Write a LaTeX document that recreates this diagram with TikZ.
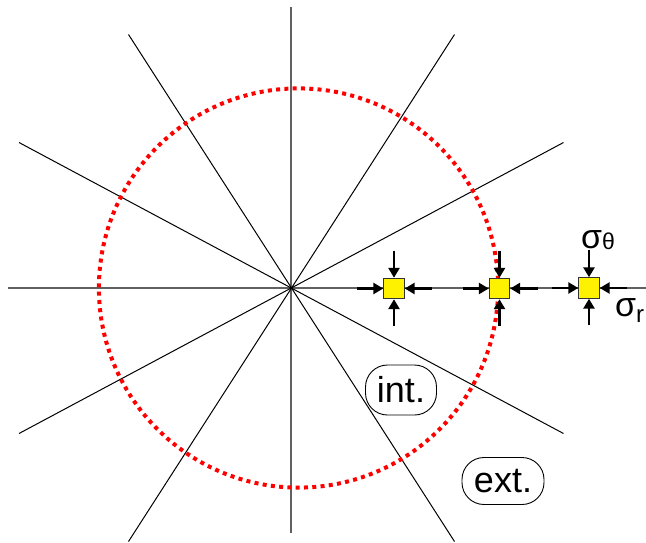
\documentclass[tikz,border=0pt]{standalone}
\usepackage{fontspec}
\setmainfont{Liberation Sans}
\usetikzlibrary{arrows.meta}
\begin{document}
\begin{tikzpicture}[x=1pt,y=-1pt,
  axisline/.style={draw=black!62, line width=1.6pt},
  ray/.style={draw=black, line width=1pt},
  elem/.style={draw=black!80, fill=yellow, minimum size=20.5pt, inner sep=0pt, line width=0.9pt},
  push/.style={draw=black, line width=2.8pt, -{Triangle[length=10pt,width=11pt]}},
  tag/.style={draw=black, rounded corners=22pt, line width=0.9pt, inner sep=0pt,
              font=\fontsize{36}{37}\selectfont},
  sig/.style={inner sep=0pt, anchor=base west},
]
\useasboundingbox (0,0) rectangle (646,542);

% radial lines
\draw[axisline] (8,288) -- (646,288);
\draw[axisline] (291,7) -- (291,533);
\draw[ray] (128.5,34.5) -- (454.5,541.5);
\draw[ray] (454.5,34.5) -- (128.5,541.5);
\draw[ray] (19,142.5) -- (563.5,433.5);
\draw[ray] (563.5,142.5) -- (19,433.5);

% dotted circle
\draw[red, line width=4pt, dash pattern=on 4pt off 4.3pt] (298.5,288) circle [radius=199.6pt];

% elements
\node[elem] (s1) at (394,288.5) {};
\node[elem] (s2) at (499.5,288.5) {};
\node[elem] (s3) at (589,288) {};

\foreach \s in {s1,s2,s3} {
  \coordinate (\s-t) at ([yshift=38pt]\s.center);
  \coordinate (\s-b) at ([yshift=-37pt]\s.center);
  \coordinate (\s-l) at ([xshift=-37pt]\s.center);
  \coordinate (\s-r) at ([xshift=38pt]\s.center);
  \draw[push] (\s-t) -- (\s.north);
  \draw[push] (\s-b) -- (\s.south);
  \draw[push] (\s-l) -- (\s.west);
  \draw[push] (\s-r) -- (\s.east);
}

% labels
\node[sig] (st) at (581,248) {{\fontsize{34}{34}\selectfont σ}\raisebox{-1.5pt}{\fontsize{23}{23}\selectfont θ}};
\node[sig] (sr) at (615,316.7) {{\fontsize{34}{34}\selectfont σ}\raisebox{-6pt}{\fontsize{24}{24}\selectfont r}};

\node[tag, minimum width=71pt, minimum height=50pt] (int) at (401,390) {int.};
\node[tag, minimum width=82pt, minimum height=47pt] (ext) at (503,481) {ext.};
\end{tikzpicture}
\end{document}
